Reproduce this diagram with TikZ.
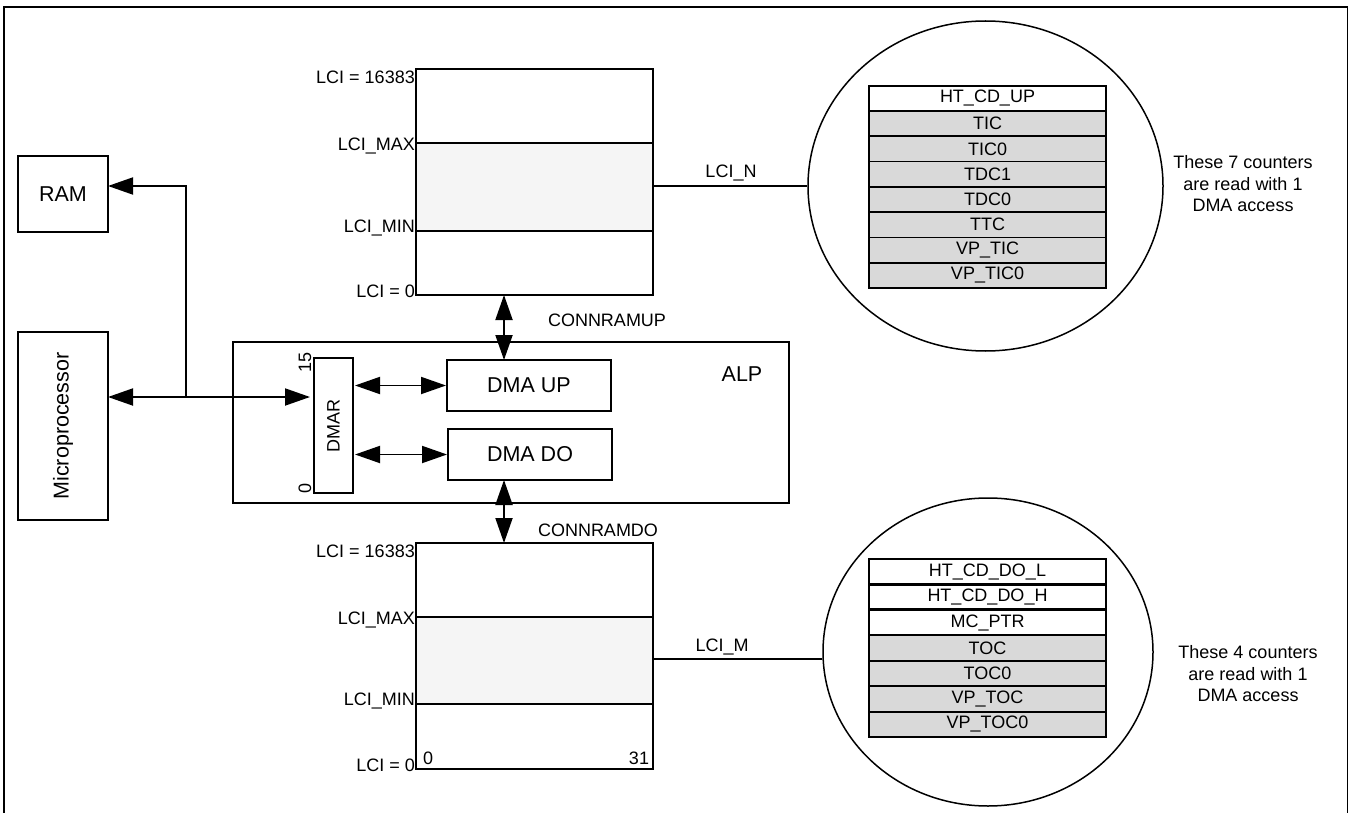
\documentclass[tikz,border=0pt]{standalone}
\usepackage{fontspec}
\setmainfont{Liberation Sans}
\usetikzlibrary{arrows.meta,shapes.geometric,calc}
\begin{document}
\begin{tikzpicture}[x=1pt,y=-1pt,
  box/.style={draw,line width=1.9pt,inner sep=0pt,outer sep=0pt},
  lbl/.style={font=\fontsize{18}{21.5}\selectfont,inner sep=0pt},
  big/.style={font=\fontsize{21.5}{25}\selectfont},
  conn/.style={line width=1.9pt},
  dbl/.style={conn,{Triangle[length=25pt,width=17pt]}-{Triangle[length=25pt,width=17pt]}},
  one/.style={conn,-{Triangle[length=25pt,width=17pt]}},
  thin/.style={line width=1.5pt},
  rowbase/.style={draw,line width=1.9pt,minimum width=237pt,inner sep=0pt,outer sep=0pt,font=\fontsize{18}{21.5}\selectfont},
  whiterowA/.style={rowbase,fill=white,minimum height=25.3pt},
  greyrowA/.style={rowbase,fill=black!15,minimum height=25.3pt},
  whiterowB/.style={rowbase,fill=white,minimum height=25.43pt},
  greyrowB/.style={rowbase,fill=black!15,minimum height=25.43pt},
  shadebox/.style={fill=black!4,draw,line width=1.9pt}]
\useasboundingbox (0,0) rectangle (1349,813);
% frame
\draw[line width=1.6pt] (4,830) -- (4,7) -- (1347.5,7) -- (1347.5,830);

% left boxes
\node[box,big,minimum width=90pt,minimum height=76pt] (ram) at (63,194) {RAM};
\node[box,minimum width=90pt,minimum height=188pt] (micro) at (63,426) {};
\node[big,rotate=90] (microtxt) at (micro.center) {Microprocessor};

% ALP block
\node[box,minimum width=556pt,minimum height=161pt] (alp) at (511,422.5) {};
\node[big] (alptxt) at (742,374) {ALP};
\node[box,minimum width=39pt,minimum height=135pt] (dmar) at (333.5,425.5) {};
\node[lbl,rotate=90] (dmartxt) at (dmar.center) {DMAR};
\node[lbl,rotate=90] (d15) at (305,362) {15};
\node[lbl,rotate=90] (d0) at (305,488) {0};
\node[box,big,minimum width=164pt,minimum height=51pt] (dmaup) at (529,385.5) {DMA UP};
\node[box,big,minimum width=164pt,minimum height=51pt] (dmado) at (530,454.5) {DMA DO};

% memories
\node[box,minimum width=237pt,minimum height=226pt] (mem1) at (534.5,182) {};
\filldraw[shadebox] (416,143) rectangle (653,231);
\node[box,minimum width=237pt,minimum height=226pt] (mem2) at (534.5,656) {};
\filldraw[shadebox] (416,617) rectangle (653,704);

\node[lbl,anchor=east] (a1) at (415,77) {LCI = 16383};
\node[lbl,anchor=east] (a2) at (415,146) {LCI\_MAX};
\node[lbl,anchor=east] (a3) at (415,228) {LCI\_MIN};
\node[lbl,anchor=east] (a4) at (415,291.5) {LCI = 0};
\node[lbl,anchor=east] (b1) at (415,551) {LCI = 16383};
\node[lbl,anchor=east] (b2) at (415,620) {LCI\_MAX};
\node[lbl,anchor=east] (b3) at (415,701) {LCI\_MIN};
\node[lbl,anchor=east] (b4) at (415,765) {LCI = 0};
\node[lbl] (z0) at (428,758) {0};
\node[lbl] (z31) at (639,758) {31};

% connectors
\coordinate (bus) at (186,397);
\coordinate (ramy) at (186,186);
\draw[dbl,shorten >=4pt] (micro.east |- bus) -- (dmar.west |- bus);
\draw[one] (bus) -- (ramy) -- (ram.east |- ramy);
\draw[dbl,shorten <=2pt,shorten >=1pt] (dmar.east |- dmaup.west) -- (dmaup.west);
\draw[dbl,shorten <=2pt,shorten >=1pt] (dmar.east |- dmado.west) -- (dmado.west);
\coordinate (vx) at (504,0);
\draw[dbl] (mem1.south -| vx) -- (dmaup.north -| vx);
\draw[dbl] (dmado.south -| vx) -- (mem2.north -| vx);
\node[lbl] (cup) at (607,320) {CONNRAMUP};
\node[lbl] (cdo) at (598,530) {CONNRAMDO};

% ellipses
\node[draw,ellipse,thin,minimum width=355pt,minimum height=330pt,inner sep=0pt] (e1) at (985.5,186) {};
\node[draw,ellipse,thin,minimum width=330pt,minimum height=308pt,inner sep=0pt] (e2) at (988,652) {};
\draw[thin] (mem1.east |- e1.west) -- (e1.west);
\node[lbl] (ln) at (731,173) {LCI\_N};
\coordinate (my) at (0,659);
\draw[thin] (mem2.east |- my) -- (e2.west |- my);
\node[lbl] (lm) at (722,647) {LCI\_M};

% upper table
\node[whiterowA] (u1) at (987.5,98.3) {HT\_CD\_UP};
\node[greyrowA] (u2) at (987.5,123.6) {TIC};
\node[greyrowA] (u3) at (987.5,148.9) {TIC0};
\node[greyrowA] (u4) at (987.5,174.2) {TDC1};
\node[greyrowA] (u5) at (987.5,199.5) {TDC0};
\node[greyrowA] (u6) at (987.5,224.8) {TTC};
\node[greyrowA] (u7) at (987.5,250.1) {VP\_TIC};
\node[greyrowA] (u8) at (987.5,275.4) {VP\_TIC0};

% lower table
\node[whiterowB] (w1) at (987.5,571.7) {HT\_CD\_DO\_L};
\node[whiterowB] (w2) at (987.5,597.1) {HT\_CD\_DO\_H};
\node[whiterowB] (w3) at (987.5,622.6) {MC\_PTR};
\node[greyrowB] (w4) at (987.5,648.0) {TOC};
\node[greyrowB] (w5) at (987.5,673.4) {TOC0};
\node[greyrowB] (w6) at (987.5,698.9) {VP\_TOC};
\node[greyrowB] (w7) at (987.5,724.3) {VP\_TOC0};
\draw[line width=3.2pt] (w1.south west) -- (w1.south east);
\draw[line width=3.2pt] (w2.south west) -- (w2.south east);

\node[lbl,align=center] (n1) at (1243,184) {These 7 counters\\are read with 1\\DMA access};
\node[lbl,align=center] (n2) at (1248,674) {These 4 counters\\are read with 1\\DMA access};
\end{tikzpicture}
\end{document}
